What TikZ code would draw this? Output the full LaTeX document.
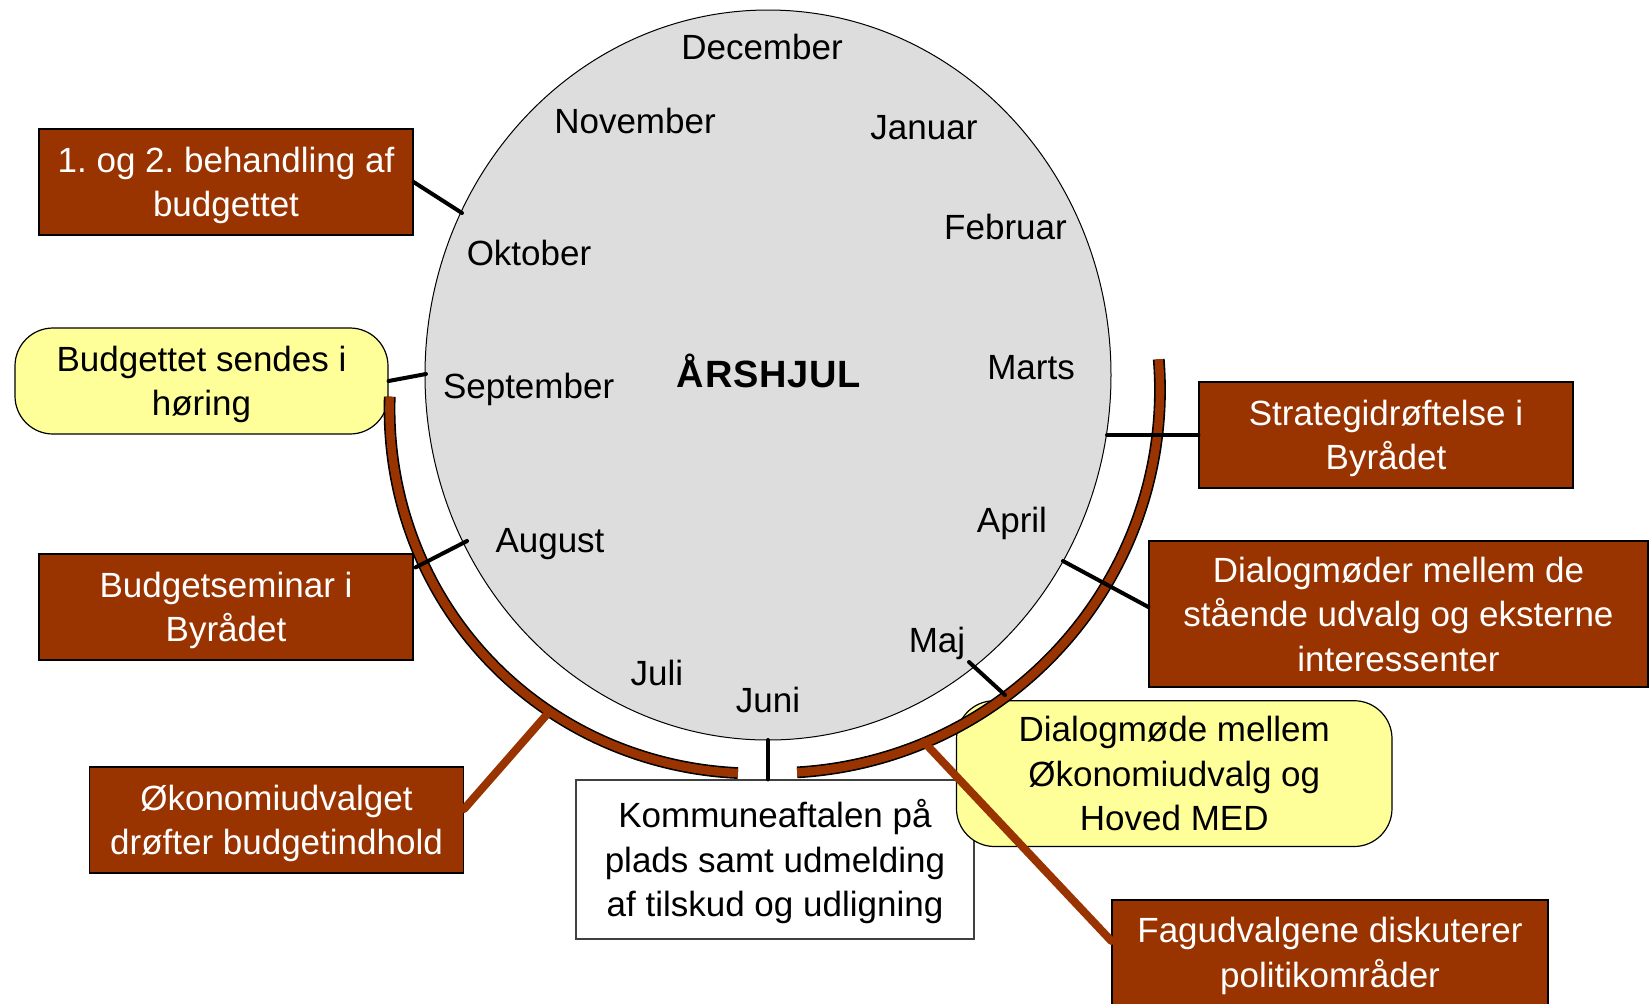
\documentclass[tikz,border=0pt]{standalone}
\usepackage{fontspec}
\setmainfont{Liberation Sans}
\newfontfamily\wheelboldfont[LetterSpace=2]{Liberation Sans}
\usetikzlibrary{calc}
\definecolor{boxbrown}{HTML}{993300}
\definecolor{boxyellow}{HTML}{FFFF99}
\definecolor{wheelgray}{HTML}{DDDDDD}
\newcommand\ystrut{\rule[-4.4pt]{0pt}{21.4pt}}
\frenchspacing
\begin{document}
\frenchspacing
\begin{tikzpicture}[x=0.5pt,y=-0.5pt,
  txt/.style={font=\fontsize{17.5}{22.3}\selectfont},
  month/.style={txt, anchor=base, inner sep=0pt},
  basebox/.style={txt, draw=black, line width=0.6pt, align=center, inner sep=0pt},
  brownbox/.style={basebox, fill=boxbrown, text=white},
  yellowbox/.style={basebox, fill=boxyellow, rounded corners=19pt},
  whitebox/.style={basebox, fill=white, draw=black!75},
  tick/.style={line width=2pt, line cap=round},
  brownlink/.style={draw=boxbrown, line width=4pt, line cap=round},
  period/.style={line width=0.8pt, double=boxbrown, double distance=4.3pt},
]
\fill[white] (0,0) rectangle (1651,1003);
\useasboundingbox (0,0) rectangle (1651,1003);

% the wheel
\filldraw[fill=wheelgray, draw=black, line width=0.5pt] (768,375) ellipse [x radius=171.5pt, y radius=182.5pt];

% months
\node[month] (dec) at (762,59) {December};
\node[month] (nov) at (635,133) {November};
\node[month] (jan) at (924,139) {Januar};
\node[month] (feb) at (1005.5,239) {Februar};
\node[month] (okt) at (529,265) {Oktober};
\node[month] (mar) at (1031,379) {Marts};
\node[month] (sep) at (528.6,398) {September};
\node[month, font=\wheelboldfont\bfseries\fontsize{19}{22}\selectfont] (hjul) at (769,387) {ÅRSHJUL};
\node[month] (apr) at (1012,532) {April};
\node[month] (aug) at (550,552) {August};
\node[month] (maj) at (937,652) {Maj};
\node[month] (jul) at (657,685) {Juli};
\node[month] (jun) at (768,712) {Juni};

% points on the wheel and on the period arc
\coordinate (wOkt) at (462,213);
\coordinate (wSep) at (426,374);
\coordinate (wAug) at (467,541);
\coordinate (wJun) at (768,740);
\coordinate (wMaj) at (969,662);
\coordinate (wMar) at (1107,435);
\coordinate (wApr) at (1063,561);
\coordinate (rMaj) at (1005,695);
\coordinate (rOko) at (549,712);
\coordinate (rFag) at (924,742);

% boxes
\node[brownbox, minimum width=187pt, minimum height=53pt] (b1) at (226,182)
  {\ystrut 1. og 2. behandling af\\ budgettet\ystrut};
\node[yellowbox, minimum width=186.5pt, minimum height=53pt] (b2) at (201.5,381)
  {\ystrut Budgettet sendes i\\ høring\ystrut};
\node[brownbox, minimum width=187pt, minimum height=53pt] (b3) at (226,607)
  {\ystrut Budgetseminar i\\ Byrådet\ystrut};
\node[brownbox, minimum width=187pt, minimum height=53pt] (b4) at (276.5,820)
  {\ystrut Økonomiudvalget\\ drøfter budgetindhold\ystrut};
\node[whitebox, minimum width=199pt, minimum height=79.5pt] (b5) at (775,859.5)
  {\ystrut Kommuneaftalen på\\ plads samt udmelding\\ af tilskud og udligning\ystrut};
\node[yellowbox, minimum width=217.75pt, minimum height=72.9pt] (b6) at (1174.25,773.6)
  {\ystrut Dialogmøde mellem\\ Økonomiudvalg og\\ Hoved MED\ystrut};
\node[brownbox, minimum width=187pt, minimum height=53pt] (b8) at (1386,435)
  {\ystrut Strategidrøftelse i\\ Byrådet\ystrut};
\node[brownbox, minimum width=249.5pt, minimum height=73pt] (b9) at (1398.5,614)
  {\ystrut Dialogmøder mellem de\\ stående udvalg og eksterne\\ interessenter\ystrut};
\node[brownbox, minimum width=218pt, minimum height=52.5pt] (b7) at (1330,952.5)
  {\ystrut Fagudvalgene diskuterer\\ politikområder\ystrut};

% period arc (two pieces)
\draw[period] plot[domain=179:95.5, samples=90, smooth]
  ({775+385*cos(\x)*(1+0.025*sin(2*(\x-90)))}, {390+383*sin(\x)*(1+0.025*sin(2*(\x-90)))});
\draw[period] plot[domain=86.7:-4.6, samples=90, smooth]
  ({775+385*cos(\x)}, {390+383*sin(\x)});

% black connectors
\draw[tick] (b1.east) -- (wOkt);
\draw[tick] (b2.east) -- (wSep);
\draw[tick] ($(b3.north east)+(2,14)$) -- (wAug);
\draw[tick] (wJun) -- (wJun |- b5.north);
\draw[tick] (wMaj) -- (rMaj);
\draw[tick] (wMar) -- (wMar -| b8.west);
\draw[tick] (wApr) -- ($(b9.west)+(0,-7)$);

% brown connectors
\draw[brownlink] ($(b4.east)+(0,-11)$) -- (rOko);
\draw[brownlink] (rFag) -- ($(b7.west)+(0,-11.5)$);
\end{tikzpicture}
\end{document}
